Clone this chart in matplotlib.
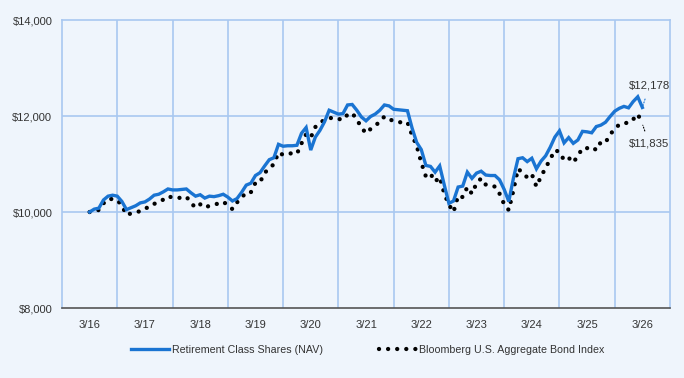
import matplotlib
matplotlib.use("Agg")
import matplotlib.pyplot as plt
import numpy as np

# === Données (valeurs mensuelles, 3/16 -> 3/26) ===
fund_nav = [
    10000, 10060, 10080, 10250, 10330, 10350, 10330, 10220, 10050, 10090, 10130, 10190,
    10210, 10270, 10350, 10370, 10420, 10480, 10460, 10460, 10470, 10480, 10400, 10330,
    10360, 10290, 10330, 10320, 10340, 10370, 10310, 10230, 10280, 10410, 10560, 10600,
    10760, 10820, 10960, 11090, 11130, 11410, 11370, 11380, 11380, 11390, 11640, 11760,
    11290, 11560, 11700, 11880, 12120, 12080, 12040, 12050, 12230, 12240, 12120, 11980,
    11900, 11990, 12040, 12120, 12230, 12210, 12140, 12130, 12120, 12110, 11750, 11450,
    11300, 10970, 10950, 10830, 10960, 10560, 10180, 10230, 10520, 10540, 10830, 10700,
    10810, 10850, 10770, 10760, 10760, 10670, 10470, 10220, 10700, 11110, 11130, 11050,
    11120, 10900, 11060, 11170, 11350, 11560, 11690, 11440, 11550, 11430, 11500, 11680,
    11670, 11650, 11780, 11810, 11870, 11990, 12100, 12160, 12200, 12170, 12300, 12400,
    12178,
]
bond_index = [
    10000, 10040, 10040, 10180, 10270, 10270, 10250, 10130, 9940, 9970, 9990, 10020,
    10050, 10140, 10170, 10200, 10260, 10330, 10300, 10290, 10300, 10320, 10190, 10090,
    10160, 10090, 10130, 10150, 10180, 10215, 10140, 10060, 10200, 10300, 10410, 10410,
    10610, 10620, 10820, 10900, 11000, 11240, 11190, 11220, 11220, 11210, 11430, 11620,
    11550, 11770, 11860, 11920, 11950, 11970, 11940, 11920, 12030, 12060, 11930, 11760,
    11640, 11730, 11800, 11880, 11990, 11930, 11900, 11870, 11870, 11870, 11600, 11380,
    11030, 10740, 10800, 10630, 10730, 10380, 10150, 10000, 10340, 10310, 10520, 10380,
    10600, 10700, 10570, 10540, 10530, 10380, 10160, 10040, 10450, 10900, 10820, 10720,
    10790, 10530, 10740, 10920, 11100, 11290, 11250, 11080, 11130, 11030, 11170, 11330,
    11330, 11360, 11290, 11460, 11450, 11610, 11740, 11820, 11860, 11850, 11930, 12040,
    11835,
]
year_labels = ["3/16", "3/17", "3/18", "3/19", "3/20", "3/21",
               "3/22", "3/23", "3/24", "3/25", "3/26"]
y_ticks = [8000, 10000, 12000, 14000]
fund_label = "Retirement Class Shares (NAV)"
index_label = "Bloomberg U.S. Aggregate Bond Index"

# === Style ===
BG = "#eff5fc"
GRID = "#a9c8f0"
BLUE = "#1a74d2"
TXT = "#333333"
plt.rcParams['font.family'] = ['Liberation Sans', 'DejaVu Sans']
plt.rcParams['font.size'] = 8

months = np.arange(len(fund_nav))

fig = plt.figure(figsize=(6.84, 3.78), dpi=100, facecolor=BG)
ax = fig.add_axes([62 / 684, 1 - 308 / 378, 608 / 684, 288 / 378])
ax.set_facecolor(BG)

# === Courbes ===
ax.plot(months, fund_nav, color=BLUE, lw=2.4, solid_joinstyle='miter',
        label=fund_label, zorder=3)
ax.plot(months, bond_index, color="black", lw=3.1, linestyle=(0, (0.01, 2.1)),
        dash_capstyle='round', label=index_label, zorder=2)

# === Axes et grille ===
ax.set_xlim(-6, 126)
ax.set_ylim(8000, 14000)
ax.set_yticks(y_ticks)
ax.set_yticklabels([f"${v:,}" for v in y_ticks], color=TXT)
ax.set_xticks(np.arange(0, 121, 12))
ax.set_xticklabels(year_labels, color=TXT)
ax.tick_params(axis='both', length=0)
ax.tick_params(axis='y', pad=7)
ax.tick_params(axis='x', pad=9)
for v in [10000, 12000]:
    ax.axhline(v, color=GRID, lw=1.2, zorder=1)
for b in np.arange(6, 126, 12):
    ax.axvline(b, color=GRID, lw=1.2, zorder=1)
for s in ['top', 'left', 'right']:
    ax.spines[s].set_color(GRID)
    ax.spines[s].set_linewidth(1.2)
ax.spines['bottom'].set_color("#555555")
ax.spines['bottom'].set_linewidth(1.2)

# === Étiquettes des valeurs finales ===
last = months[-1]
ax.annotate(f"${fund_nav[-1]:,}", xy=(last, fund_nav[-1]), xytext=(last + 1.5, 12625),
            ha='center', va='center', color=TXT, fontsize=8.2,
            arrowprops=dict(arrowstyle='-', color=BLUE, lw=0.8, ls=':', shrinkA=4, shrinkB=1))
ax.annotate(f"${bond_index[-1]:,}", xy=(last, bond_index[-1]), xytext=(last + 1.5, 11417),
            ha='center', va='center', color=TXT, fontsize=8.2,
            arrowprops=dict(arrowstyle='-', color='black', lw=0.8, ls=':', shrinkA=4, shrinkB=1))

# === Légende ===
fig.legend(loc='center', bbox_to_anchor=(368 / 684, 1 - 350 / 378), ncol=2, frameon=False,
           fontsize=7.7, handlelength=3.53, handletextpad=0.26, columnspacing=5.2,
           labelcolor=TXT)

fig.savefig("out.png", dpi=100, facecolor=BG)
